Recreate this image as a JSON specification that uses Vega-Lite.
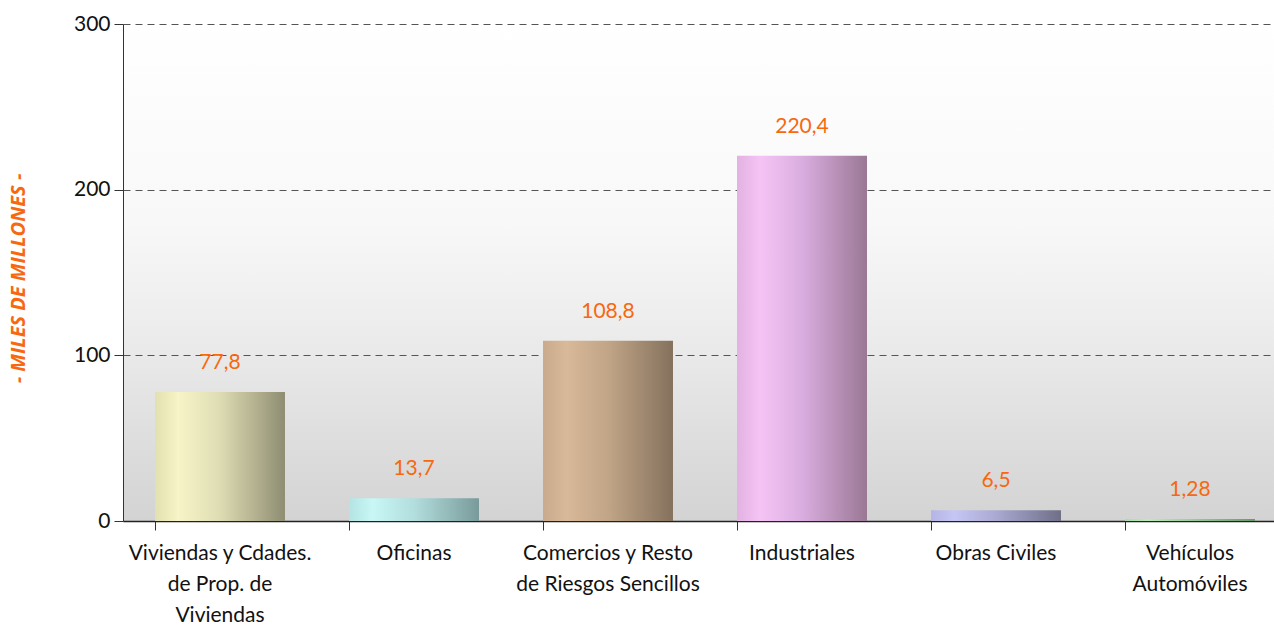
{
  "$schema": "https://vega.github.io/schema/vega-lite/v6.json",
  "width": 1151,
  "height": 497,
  "autosize": "none",
  "padding": {"left": 123, "top": 24, "right": 0, "bottom": 105},
  "background": "white",
  "config": {
    "font": "Lato",
    "view": {
      "stroke": null,
      "fill": {
        "gradient": "linear", "x1": 0, "y1": 0, "x2": 0, "y2": 1,
        "stops": [
          {"offset": 0, "color": "#ffffff"},
          {"offset": 0.4, "color": "#f8f8f8"},
          {"offset": 0.62, "color": "#ececec"},
          {"offset": 1, "color": "#d3d3d3"}
        ]
      }
    }
  },
  "data": {
    "values": [
      {"cat": "Viviendas y Cdades.|de Prop. de|Viviendas", "value": 77.8, "label": "77,8"},
      {"cat": "Oficinas", "value": 13.7, "label": "13,7"},
      {"cat": "Comercios y Resto|de Riesgos Sencillos", "value": 108.8, "label": "108,8"},
      {"cat": "Industriales", "value": 220.4, "label": "220,4"},
      {"cat": "Obras Civiles", "value": 6.5, "label": "6,5"},
      {"cat": "Vehículos|Automóviles", "value": 1.28, "label": "1,28"}
    ]
  },
  "encoding": {
    "x": {
      "field": "cat", "type": "nominal", "sort": null, "title": null,
      "scale": {"range": [0, 1164], "paddingInner": 0.33, "paddingOuter": 0.165},
      "axis": {
        "labelExpr": "split(datum.value, '|')",
        "labelAngle": 0,
        "labelLimit": 0,
        "labelFontSize": 21,
        "labelLineHeight": 31,
        "labelColor": "#111111",
        "labelPadding": 12,
        "labelBaseline": "top",
        "bandPosition": 0,
        "tickSize": 9,
        "tickColor": "#333333",
        "domainColor": "#222222",
        "domainWidth": 1.5,
        "grid": false
      }
    },
    "y": {
      "field": "value", "type": "quantitative", "title": "- MILES DE MILLONES -",
      "scale": {"domain": [0, 300], "nice": false},
      "axis": {
        "values": [0, 100, 200, 300],
        "labelFontSize": 21,
        "labelColor": "#111111",
        "labelPadding": 4,
        "tickSize": 9,
        "tickColor": "#333333",
        "domainColor": "#333333",
        "grid": true,
        "gridColor": "#555555",
        "gridDash": [7, 5],
        "gridWidth": 1,
        "titleColor": "#f7680f",
        "titleFont": "Open Sans",
        "titleFontSize": 20,
        "titleFontWeight": "bold",
        "titleFontStyle": "italic",
        "titleX": -105,
        "titleY": 254,
        "titleAngle": -90,
        "titleAlign": "center",
        "titleBaseline": "middle"
      }
    }
  },
  "layer": [
    {
      "transform": [{"filter": "datum.label == '77,8'"}],
      "mark": {"type": "bar", "color": {"gradient": "linear", "x1": 0, "y1": 0, "x2": 1, "y2": 0, "stops": [
        {"offset": 0, "color": "#e2dfb0"}, {"offset": 0.18, "color": "#f7f5c7"}, {"offset": 0.5, "color": "#dedcb3"}, {"offset": 1, "color": "#8f8d72"}]}}
    },
    {
      "transform": [{"filter": "datum.label == '13,7'"}],
      "mark": {"type": "bar", "color": {"gradient": "linear", "x1": 0, "y1": 0, "x2": 1, "y2": 0, "stops": [
        {"offset": 0, "color": "#b3e4e3"}, {"offset": 0.18, "color": "#c8f7f5"}, {"offset": 0.5, "color": "#b2dedd"}, {"offset": 1, "color": "#799a9a"}]}}
    },
    {
      "transform": [{"filter": "datum.label == '108,8'"}],
      "mark": {"type": "bar", "color": {"gradient": "linear", "x1": 0, "y1": 0, "x2": 1, "y2": 0, "stops": [
        {"offset": 0, "color": "#c9aa8c"}, {"offset": 0.18, "color": "#d8b999"}, {"offset": 0.5, "color": "#c1a587"}, {"offset": 1, "color": "#84715d"}]}}
    },
    {
      "transform": [{"filter": "datum.label == '220,4'"}],
      "mark": {"type": "bar", "color": {"gradient": "linear", "x1": 0, "y1": 0, "x2": 1, "y2": 0, "stops": [
        {"offset": 0, "color": "#e2b2e2"}, {"offset": 0.18, "color": "#f5c4f5"}, {"offset": 0.5, "color": "#daade0"}, {"offset": 1, "color": "#9a7894"}]}}
    },
    {
      "transform": [{"filter": "datum.label == '6,5'"}],
      "mark": {"type": "bar", "color": {"gradient": "linear", "x1": 0, "y1": 0, "x2": 1, "y2": 0, "stops": [
        {"offset": 0, "color": "#b5b5e5"}, {"offset": 0.18, "color": "#c6c6f5"}, {"offset": 0.5, "color": "#a9a9d2"}, {"offset": 1, "color": "#6f6f88"}]}}
    },
    {
      "transform": [{"filter": "datum.label == '1,28'"}],
      "mark": {"type": "bar", "color": {"gradient": "linear", "x1": 0, "y1": 0, "x2": 1, "y2": 0, "stops": [
        {"offset": 0, "color": "#a8dca8"}, {"offset": 0.18, "color": "#b8ecb8"}, {"offset": 0.5, "color": "#9ccc9c"}, {"offset": 1, "color": "#6a986a"}]}}
    },
    {
      "mark": {"type": "text", "dy": -29, "baseline": "middle", "fontSize": 21, "color": "#f7680f", "font": "Lato"},
      "encoding": {"text": {"field": "label"}}
    }
  ]
}
